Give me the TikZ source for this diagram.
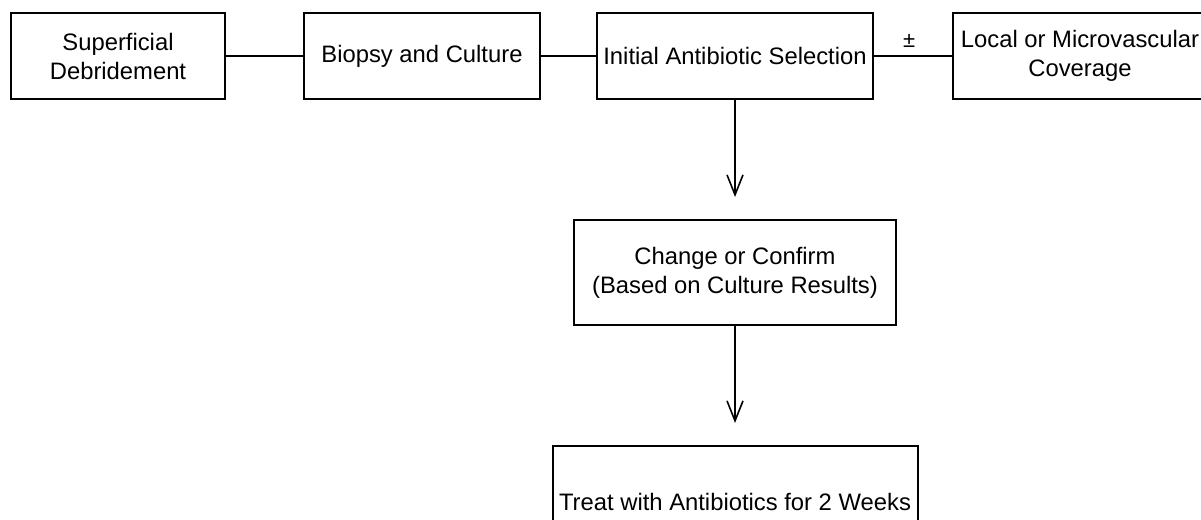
\documentclass[tikz,border=0pt]{standalone}
\usepackage{fontspec}
\setmainfont{Liberation Sans}
\usepackage{tikz}
\usetikzlibrary{positioning}
\usetikzlibrary{arrows.meta}

\begin{document}
\begin{tikzpicture}[node distance=59.5pt,
  stepbox/.style={rectangle, draw, line width=1pt, align=center, inner sep=2pt, minimum height=43pt, font=\fontsize{11.9}{14.5}\selectfont},
  link/.style={line width=0.8pt},
  flow/.style={line width=0.8pt, -{Straight Barb[length=10pt,width=8pt,line width=0.8pt]}, shorten >=11pt}]

\useasboundingbox (0,0) rectangle (600.5pt,-260pt);

% Nodes
\node (debride) [stepbox, anchor=north west, minimum width=107pt] at (5pt,-6pt) {Superficial\\Debridement};
\node (biopsy) [stepbox, right=38.5pt of debride, minimum width=118pt] {Biopsy and Culture};
\node (select) [stepbox, right=27.5pt of biopsy, minimum width=138pt] {Initial Antibiotic Selection};
\node (cover) [stepbox, right=39pt of select, minimum width=127pt] {Local or Microvascular\\Coverage};
\node (confirm) [stepbox, below=of select, minimum width=161pt, minimum height=52.5pt] {Change or Confirm\\(Based on Culture Results)};
\node (treat) [stepbox, below=of confirm, minimum width=182.5pt, minimum height=56pt] {Treat with Antibiotics for 2 Weeks};

% Lines
\draw[link] (debride) -- (biopsy);
\draw[link] (biopsy) -- (select);
\draw[link] (select) -- node[above, pos=0.45, inner sep=4pt, font=\fontsize{11}{12}\selectfont] (pm) {±} (cover);

% Arrows
\draw[flow] (select) -- (confirm);
\draw[flow] (confirm) -- (treat);

\end{tikzpicture}
\end{document}
